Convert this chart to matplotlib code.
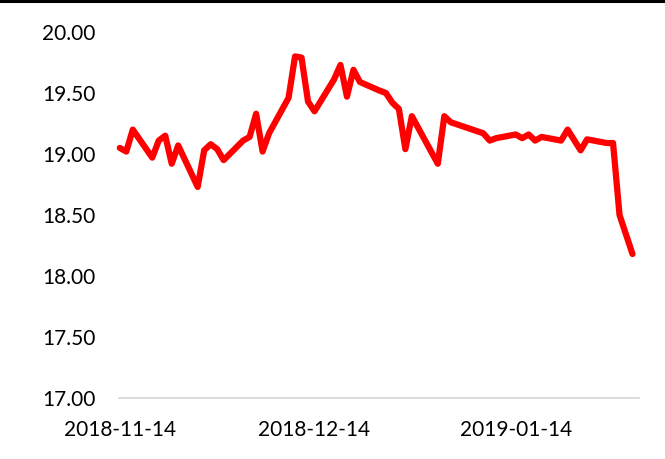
import matplotlib
matplotlib.use("Agg")
import matplotlib.pyplot as plt
import matplotlib.dates as mdates
from matplotlib.lines import Line2D
import pandas as pd

dates = ["2018-11-14", "2018-11-15", "2018-11-16", "2018-11-19", "2018-11-20",
         "2018-11-21", "2018-11-22", "2018-11-23", "2018-11-26", "2018-11-27",
         "2018-11-28", "2018-11-29", "2018-11-30", "2018-12-03", "2018-12-04",
         "2018-12-05", "2018-12-06", "2018-12-07", "2018-12-10", "2018-12-11",
         "2018-12-12", "2018-12-13", "2018-12-14", "2018-12-17", "2018-12-18",
         "2018-12-19", "2018-12-20", "2018-12-21", "2018-12-24", "2018-12-25",
         "2018-12-26", "2018-12-27", "2018-12-28", "2018-12-29", "2019-01-02",
         "2019-01-03", "2019-01-04", "2019-01-09", "2019-01-10", "2019-01-11",
         "2019-01-14", "2019-01-15", "2019-01-16", "2019-01-17", "2019-01-18",
         "2019-01-21", "2019-01-22", "2019-01-24", "2019-01-25", "2019-01-28",
         "2019-01-29", "2019-01-30", "2019-02-01"]
values = [19.05, 19.02, 19.20, 18.97, 19.11,
          19.15, 18.92, 19.07, 18.73, 19.03,
          19.08, 19.04, 18.95, 19.11, 19.14,
          19.33, 19.02, 19.17, 19.46, 19.80,
          19.79, 19.43, 19.35, 19.61, 19.73,
          19.47, 19.69, 19.59, 19.52, 19.50,
          19.42, 19.37, 19.04, 19.31, 18.92,
          19.31, 19.26, 19.17, 19.11, 19.13,
          19.16, 19.13, 19.16, 19.11, 19.14,
          19.11, 19.20, 19.03, 19.12, 19.09,
          19.09, 18.50, 18.18]
x_ticks = ["2018-11-14", "2018-12-14", "2019-01-14"]
y_ticks = [17.00, 17.50, 18.00, 18.50, 19.00, 19.50, 20.00]

plt.rcParams['font.family'] = ['Lato', 'DejaVu Sans']

fig = plt.figure(figsize=(6.65, 4.59), dpi=100)
ax = fig.add_axes([119/665, 1-398/459, (639-119)/665, (398-32)/459])

d = pd.to_datetime(dates)
ax.plot(d, values, color='#FF0000', linewidth=4.5, solid_joinstyle='round',
        solid_capstyle='round', clip_on=False)

ax.set_ylim(17, 20)
ax.set_yticks(y_ticks)
ax.set_yticklabels([f"{v:.2f}" for v in y_ticks])
ax.set_xlim(pd.Timestamp("2018-11-14") - pd.Timedelta(hours=3),
            pd.Timestamp("2019-02-02"))
ax.set_xticks(pd.to_datetime(x_ticks))
ax.xaxis.set_major_formatter(mdates.DateFormatter("%Y-%m-%d"))

for s in ['left', 'right', 'top']:
    ax.spines[s].set_visible(False)
ax.spines['bottom'].set_color('#D9D9D9')
ax.spines['bottom'].set_linewidth(1.3)
ax.tick_params(axis='both', length=0, labelsize=15, colors='black')
ax.tick_params(axis='y', pad=17)
ax.tick_params(axis='x', pad=16)

fig.add_artist(Line2D([0, 1], [1 - 1.2/459, 1 - 1.2/459], color='black',
                      linewidth=2.2, transform=fig.transFigure))

fig.savefig("out.png", dpi=100)
